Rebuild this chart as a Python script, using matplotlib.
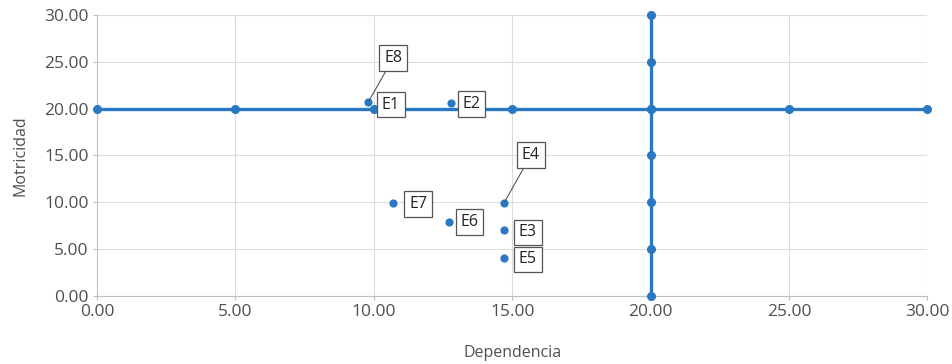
import matplotlib
matplotlib.use("Agg")
import matplotlib.pyplot as plt

# Horizontal reference line (Motricidad = 20)
h_x = [0, 5, 10, 15, 20, 25, 30]
h_y = [20, 20, 20, 20, 20, 20, 20]
# Vertical reference line (Dependencia = 20)
v_x = [20, 20, 20, 20, 20, 20, 20]
v_y = [0, 5, 10, 15, 20, 25, 30]

# Labeled points
labels = ["E1", "E2", "E3", "E4", "E5", "E6", "E7", "E8"]
dep = [10.0, 12.8, 14.7, 14.7, 14.7, 12.7, 10.7, 9.8]
mot = [20.0, 20.6, 7.0, 9.9, 4.0, 7.9, 9.9, 20.7]

ticks = [0, 5, 10, 15, 20, 25, 30]
tick_labels = ["0.00", "5.00", "10.00", "15.00", "20.00", "25.00", "30.00"]

# label offsets in pixels (dx, dy) and whether to draw a leader line
offsets = {"E1": (17, 4, False), "E2": (20, -1, False), "E3": (24, -2, False),
           "E4": (27, 48, True), "E5": (24, -1, False), "E6": (21, 0, False),
           "E7": (25, -1, False), "E8": (25, 44, True)}

plt.rcParams['font.family'] = ['Open Sans', 'DejaVu Sans']
blue = "#2a78c4"
gray_txt = "#505050"

fig = plt.figure(figsize=(9.52, 3.64), dpi=100)
ax = fig.add_axes([0.102, 0.187, 0.872, 0.772])

ax.plot(h_x, h_y, color=blue, lw=2.4, marker='o', ms=5.5, zorder=3, clip_on=False)
ax.plot(v_x, v_y, color=blue, lw=2.4, marker='o', ms=5.5, zorder=3, clip_on=False)
ax.scatter(dep, mot, s=24, color=blue, zorder=4, clip_on=False)

for lab, x, y in zip(labels, dep, mot):
    dx, dy, arrow = offsets[lab]
    kw = dict(xy=(x, y), xytext=(dx, dy), textcoords='offset pixels',
              ha='center', va='center', fontsize=11.5, color='#222222',
              bbox=dict(boxstyle='square,pad=0.3', fc='white', ec='#555555', lw=0.9),
              zorder=5)
    if arrow:
        kw['arrowprops'] = dict(arrowstyle='-', color='#555555', lw=0.8,
                                shrinkA=0, shrinkB=1)
    ax.annotate(lab, **kw)

ax.set_xlim(0, 30)
ax.set_ylim(0, 30)
ax.set_xticks(ticks)
ax.set_xticklabels(tick_labels)
ax.set_yticks(ticks)
ax.set_yticklabels(tick_labels)
ax.tick_params(axis='both', labelsize=12.5, colors='#bfbfbf', labelcolor=gray_txt,
               length=3, pad=3)
ax.grid(True, color='#dcdcdc', lw=0.8, zorder=0)
ax.set_axisbelow(True)
for s in ['top', 'right']:
    ax.spines[s].set_visible(False)
for s in ['left', 'bottom']:
    ax.spines[s].set_color('#bfbfbf')
    ax.spines[s].set_linewidth(0.8)

ax.set_xlabel("Dependencia", fontsize=11.5, color=gray_txt, labelpad=18)
ax.set_ylabel("Motricidad", fontsize=11.5, color=gray_txt, labelpad=11)

fig.savefig("out.png", dpi=100)
